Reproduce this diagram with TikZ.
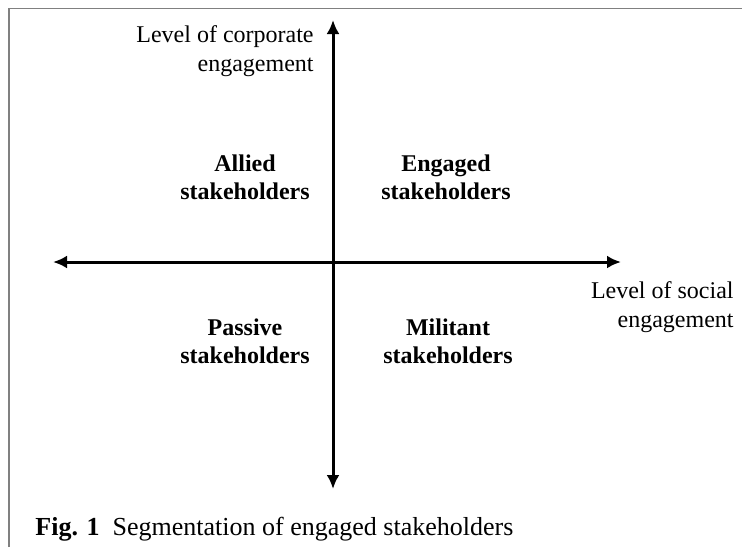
\documentclass[tikz,border=0pt]{standalone}
\usepackage{fontspec}
\setmainfont{Liberation Serif}
\usetikzlibrary{arrows.meta}

\begin{document}
\begin{tikzpicture}[x=0.5pt, y=-0.5pt,
    axis/.style={line width=1.5pt, {Latex[length=7pt,width=6.5pt]}-{Latex[length=7pt,width=6.5pt]}},
    quadlabel/.style={font=\bfseries\fontsize{12}{14}\selectfont, align=center, anchor=north, inner sep=0pt},
    axislabel/.style={font=\fontsize{12}{14.5}\selectfont, align=right, anchor=north east, inner sep=0pt}]

        % page size and the grey frame of the scanned figure
        \useasboundingbox (0,0) rectangle (742,547);
        \draw[gray, line width=0.8pt] (9,547) -- (9,8.5) -- (742,8.5);

        % the two axes
        \coordinate (origin) at (333,262);
        \coordinate (top) at (333,20);
        \coordinate (bottom) at (333,489);
        \coordinate (left) at (53,262);
        \coordinate (right) at (621,262);
        \draw[axis] (bottom) -- (top);
        \draw[axis] (left) -- (right);

        % axis labels
        \node[axislabel] (corporate) at (314,25) {Level of corporate\\engagement};
        \node[axislabel] (social) at (734,281) {Level of social\\engagement};

        % the four quadrants
        \node[quadlabel] (allied) at (245,154) {Allied\\stakeholders};
        \node[quadlabel] (engaged) at (446,154) {Engaged\\stakeholders};
        \node[quadlabel] (passive) at (245,318) {Passive\\stakeholders};
        \node[quadlabel] (militant) at (448,318) {Militant\\stakeholders};

        % caption
        \node[anchor=base west, inner sep=0pt, font=\fontsize{13}{15}\selectfont] (caption) at (35,535)
            {\textbf{Fig. 1}\enspace Segmentation of engaged stakeholders};

\end{tikzpicture}
\end{document}
